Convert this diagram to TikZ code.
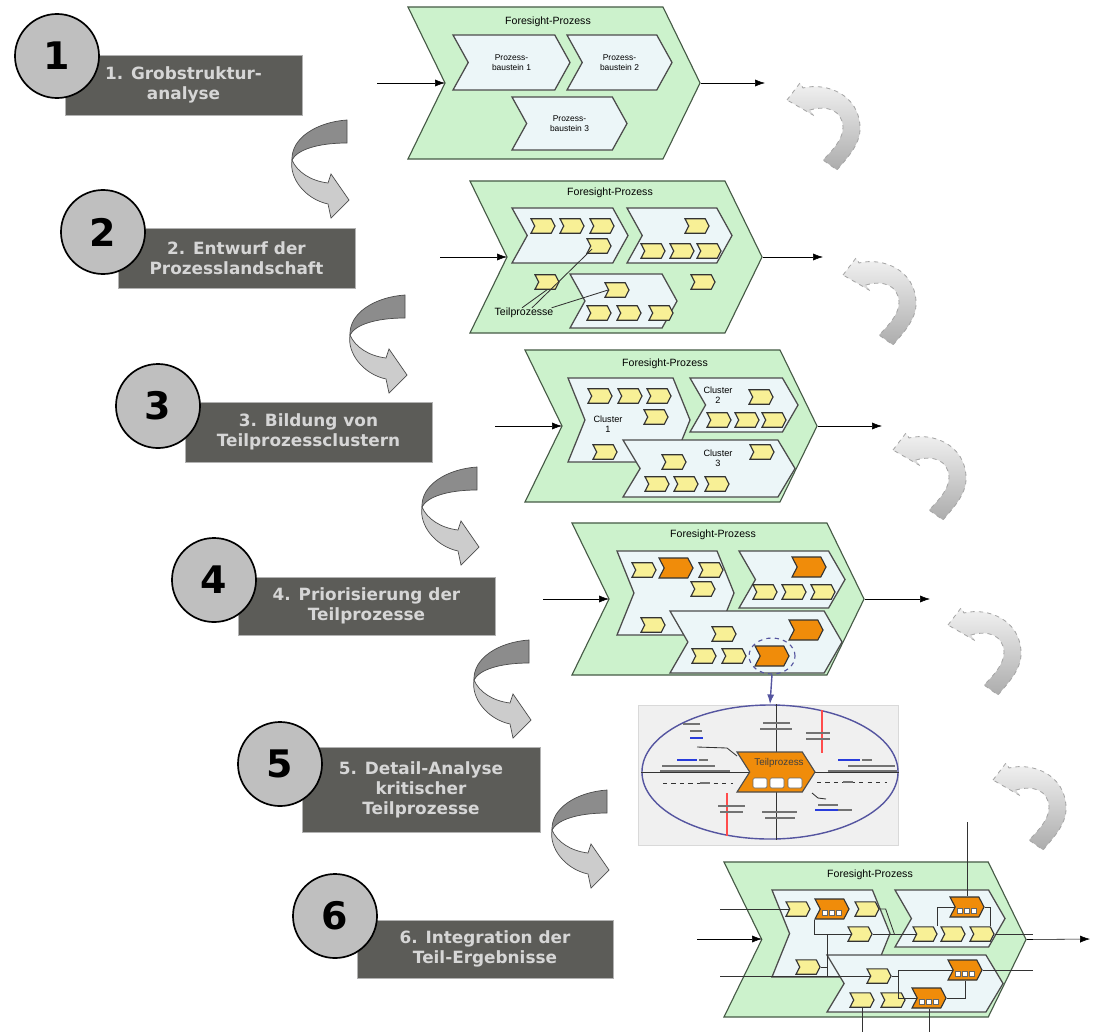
\documentclass[tikz,border=0pt]{standalone}
\usepackage{fontspec}
\newfontfamily\stepfont{DejaVu Sans}
\newfontfamily\diafont{Liberation Sans}
\usetikzlibrary{shapes.symbols,shapes.geometric,arrows.meta,calc}
\definecolor{chevgreen}{RGB}{204,242,204}
\definecolor{chevline}{RGB}{70,90,70}
\definecolor{blockblue}{RGB}{236,246,248}
\definecolor{tpyellow}{RGB}{248,240,150}
\definecolor{tporange}{RGB}{240,140,10}
\definecolor{stepgray}{RGB}{92,92,88}
\definecolor{ovalblue}{RGB}{85,85,160}
\definecolor{linkblue}{RGB}{40,60,220}

\begin{document}
\begin{tikzpicture}[x=0.025cm, y=-0.025cm, >={Latex[length=7pt,width=5pt]},
  every node/.style={inner sep=0pt},
  stepbox/.style={rectangle, fill=stepgray, draw=gray!60, text=white!84!black, align=center, font=\stepfont\bfseries\fontsize{12}{14.3}\selectfont},
  stepnum/.style={circle, draw=black, line width=1.2pt, fill=black!25, minimum size=2.1cm, font=\stepfont\bfseries\fontsize{27}{27}\selectfont},
  sig/.style={signal, signal from=west, signal to=east},
  foresight/.style={sig, draw=chevline, fill=chevgreen, line width=0.8pt, signal pointer angle=128, minimum width=7.3cm, minimum height=3.8cm},
  block/.style={sig, draw=black!70, fill=blockblue, line width=0.9pt, align=center, font=\diafont\fontsize{6}{7}\selectfont},
  chevtitle/.style={font=\diafont\fontsize{7.5}{8}\selectfont},
  clab/.style={align=center, font=\diafont\fontsize{6.5}{7.5}\selectfont},
  ybox/.style={sig, draw=black!80, fill=tpyellow, line width=0.8pt, minimum width=0.6cm, minimum height=0.36cm, signal pointer angle=125},
  obox/.style={ybox, fill=tporange, minimum width=0.85cm, minimum height=0.5cm},
  obox3/.style={obox, path picture={\foreach \k in {-1,0,1} \draw[fill=white, draw=black!60, line width=0.3pt] ($(path picture bounding box.center)+(\k*7-2.5,1)$) rectangle ++(5,5);}},
  wire/.style={black!80, line width=0.6pt},
  scrib/.style={black!55, line width=1.3pt},
  sq/.style={rectangle, fill=white, draw=black!60, minimum width=0.35cm, minimum height=0.25cm, rounded corners=1pt},
  turn/.pic={
    \draw[black!70, line width=0.5pt, fill=black!45] (0,0) .. controls (-30,2) and (-56,18) .. (-55,40) .. controls (-50,30) and (-30,23) .. (0,23) -- cycle;
    \draw[black!70, line width=0.5pt, fill=black!20] (-55,40) .. controls (-50,52) and (-36,61) .. (-19,63) -- (-16,54) -- (2,80) -- (-16,98) -- (-19,84) .. controls (-42,79) and (-58,58) .. (-55,40) -- cycle;},
  backturn/.pic={\draw[gray!70, dashed, line width=0.6pt, top color=gray!10, bottom color=gray!65] (0,0) -- (13,-17) -- (16,-12) .. controls (40,-18) and (72,-5) .. (73,27) .. controls (74,45) and (58,60) .. (50,70) -- (36,60) .. controls (48,48) and (56,38) .. (56,27) .. controls (55,10) and (40,5) .. (23,10) -- (26,15) -- cycle;}]

\useasboundingbox (0,0) rectangle (1095,1032);

\node[stepbox, minimum width=5.93cm, minimum height=1.5cm] (s1) at (183.5,85) {1. Grobstruktur-\\analyse};
\node[stepbox, minimum width=5.93cm, minimum height=1.5cm] (s2) at (236.5,258) {2. Entwurf der\\Prozesslandschaft};
\node[stepbox, minimum width=6.18cm, minimum height=1.5cm] (s3) at (308.5,432) {3. Bildung von\\Teilprozessclustern};
\node[stepbox, minimum width=6.43cm, minimum height=1.45cm] (s4) at (366.5,606) {4. Priorisierung der\\Teilprozesse};
\node[stepbox, minimum width=5.95cm, minimum height=2.13cm] (s5) at (421,789.5) {5. Detail-Analyse\\kritischer\\Teilprozesse};
\node[stepbox, minimum width=6.4cm, minimum height=1.45cm] (s6) at (485,949) {6. Integration der\\Teil-Ergebnisse};

\node[stepnum] (n1) at (57,56) {1};
\node[stepnum] (n2) at (103,232) {2};
\node[stepnum] (n3) at (158,406) {3};
\node[stepnum] (n4) at (214,580) {4};
\node[stepnum] (n5) at (280,764) {5};
\node[stepnum] (n6) at (335,916) {6};

\pic (a1) at (347,120) {turn};
\pic (a2) at (405,295) {turn};
\pic (a3) at (477,467) {turn};
\pic (a4) at (529,640) {turn};
\pic (a5) at (607,790) {turn};

\pic (r1) at (787,100) {backturn};
\pic (r2) at (843,275) {backturn};
\pic (r3) at (893,450) {backturn};
\pic (r4) at (948,625) {backturn};
\pic (r5) at (993,780) {backturn};

\node[foresight] (c1) at (554,83) {};
\node[chevtitle] (t1) at (548,22) {Foresight-Prozess};
\node[block, minimum width=2.925cm, minimum height=1.375cm, signal pointer angle=122] (pb1) at (511.5,62.5) {Prozess-\\baustein 1};
\node[block, minimum width=2.625cm, minimum height=1.375cm, signal pointer angle=122] (pb2) at (619.5,62.5) {Prozess-\\baustein 2};
\node[block, minimum width=2.875cm, minimum height=1.325cm, signal pointer angle=122] (pb3) at (569.5,123.5) {Prozess-\\baustein 3};
\coordinate (c1i) at (377,83);
\coordinate (c1n) at (445,83);
\coordinate (c1o) at (765,83);
\draw[->] (c1i) -- (c1n);
\draw[->] (c1.east) -- (c1o);

\node[foresight] (c2) at (616,257) {};
\node[chevtitle] (t2) at (610,193) {Foresight-Prozess};
\node[block, minimum width=2.9cm, minimum height=1.375cm, signal pointer angle=122] (c2p1) at (570,235.5) {};
\node[block, minimum width=2.625cm, minimum height=1.375cm, signal pointer angle=122] (c2p2) at (679.5,235.5) {};
\node[block, minimum width=2.675cm, minimum height=1.35cm, signal pointer angle=122] (c2p3) at (623.5,301) {};
\node[ybox] (e1) at (543,226) {};
\node[ybox] (e2) at (572,226) {};
\node[ybox] (e3) at (602,226) {};
\node[ybox] (e4) at (599,246) {};
\node[ybox] (e5) at (697,226) {};
\node[ybox] (e6) at (653,251) {};
\node[ybox] (e7) at (682,251) {};
\node[ybox] (e8) at (709,251) {};
\node[ybox] (e9) at (547,282) {};
\node[ybox] (e10) at (617,290) {};
\node[ybox] (e11) at (599,313) {};
\node[ybox] (e12) at (629,313) {};
\node[ybox] (e13) at (661,313) {};
\node[ybox] (e14) at (703,282) {};
\node[chevtitle] (tpl) at (524,313) {Teilprozesse};
\draw[wire] ($(tpl.north)+(-2,0)$) -- (e9.south);
\draw[wire] ($(tpl.north)+(8,0)$) -- ($(e4.west)+(2,3)$);
\draw[wire] ($(tpl.north east)+(-2,0)$) -- (e10.west);
\coordinate (c2i) at (440,257);
\coordinate (c2n) at (507,257);
\coordinate (c2o) at (823,257);
\draw[->] (c2i) -- (c2n);
\draw[->] (c2.east) -- (c2o);

\node[foresight] (c3) at (671,426) {};
\node[chevtitle] (t3) at (665,364) {Foresight-Prozess};
\node[block, minimum width=3.05cm, minimum height=2.1cm, signal pointer angle=136] (c3p1) at (629,420) {};
\node[block, minimum width=2.7cm, minimum height=1.35cm, signal pointer angle=120] (c3p2) at (744,405) {};
\node[block, minimum width=4.3cm, minimum height=1.425cm, signal pointer angle=118] (c3p3) at (709,468.5) {};
\node[ybox] (h1) at (600,396) {};
\node[ybox] (h2) at (630,396) {};
\node[ybox] (h3) at (659,396) {};
\node[ybox] (h4) at (656,417) {};
\node[ybox] (h5) at (605,452) {};
\node[ybox] (h6) at (761,397) {};
\node[ybox] (h7) at (719,420) {};
\node[ybox] (h8) at (747,420) {};
\node[ybox] (h9) at (774,420) {};
\node[ybox] (h10) at (762,452) {};
\node[ybox] (h11) at (674,462) {};
\node[ybox] (h12) at (657,484) {};
\node[ybox] (h13) at (686,484) {};
\node[ybox] (h14) at (717,484) {};
\node[clab] (k1) at (608,424) {Cluster\\1};
\node[clab] (k2) at (718,395) {Cluster\\2};
\node[clab] (k3) at (718,458) {Cluster\\3};
\coordinate (c3i) at (495,426);
\coordinate (c3n) at (562,426);
\coordinate (c3o) at (882,426);
\draw[->] (c3i) -- (c3n);
\draw[->] (c3.east) -- (c3o);

\node[foresight] (c4) at (718,599) {};
\node[chevtitle] (t4) at (713,535) {Foresight-Prozess};
\node[block, minimum width=2.925cm, minimum height=2.1cm, signal pointer angle=136] (c4p1) at (675.5,593) {};
\node[block, minimum width=2.65cm, minimum height=1.425cm, signal pointer angle=120] (c4p2) at (792,579.5) {};
\node[block, minimum width=4.3cm, minimum height=1.55cm, signal pointer angle=120] (c4p3) at (756,642) {};
\node[ybox] (g1) at (644,570) {};
\node[obox] (g2) at (676,568) {};
\node[ybox] (g3) at (711,570) {};
\node[ybox] (g4) at (703,589) {};
\node[ybox] (g5) at (653,625) {};
\node[obox] (g6) at (809,567) {};
\node[ybox] (g7) at (765,592) {};
\node[ybox] (g8) at (794,592) {};
\node[ybox] (g9) at (823,592) {};
\node[obox] (g10) at (806,630) {};
\node[ybox] (g11) at (724,634) {};
\node[ybox] (g12) at (704,656) {};
\node[ybox] (g13) at (734,656) {};
\node[obox] (g14) at (772,656) {};
\node[ellipse, draw=ovalblue, dashed, line width=0.8pt, minimum width=1.15cm, minimum height=0.9cm] (focus) at (772,656) {};
\coordinate (c4i) at (543,599);
\coordinate (c4n) at (609,599);
\coordinate (c4o) at (930,599);
\draw[->] (c4i) -- (c4n);
\draw[->] (c4.east) -- (c4o);

\node[rectangle, fill=black!6, draw=black!15, minimum width=6.5cm, minimum height=3.5cm] (shot) at (768,775) {};
\node[ellipse, draw=ovalblue, line width=1pt, minimum width=6.4cm, minimum height=3.35cm] (oval) at (770,772) {};
\draw[->, ovalblue, line width=1pt] (focus.south) -- (oval.north);
\coordinate (tpc) at (776,772);
\draw[wire] (tpc) -- (tpc |- oval.north);
\draw[wire] (tpc) -- (tpc |- oval.south);
\draw[wire] (oval.west) -- (tpc);
\draw[wire] (tpc) -- (oval.east);
\draw[wire, dashed] (663,783) -- (733,783);
\draw[wire, dashed] (817,782) -- (887,782);
\draw[red!70, line width=1pt] (822,710) -- (822,753);
\draw[red!70, line width=1pt] (727,793) -- (727,836);
\draw[wire] (697,747) -- (727,748) -- (737,756);
\draw[wire] (812,793) -- (818,798) -- (826,799);
\foreach \xa/\xb/\yy in {763/790/723, 760/792/729, 683/700/724, 690/702/731, 806/830/733, 806/830/739, 699/708/760, 662/715/766, 660/730/771, 862/872/760, 848/895/766, 828/897/771, 700/710/783, 843/853/782, 718/745/806, 720/743/812, 762/797/812, 765/795/818, 818/838/805, 838/852/810}
  \draw[scrib] (\xa,\yy) -- (\xb,\yy);
\foreach \xa/\xb/\yy in {690/703/738, 677/697/760, 838/860/760, 815/838/810}
  \draw[scrib, linkblue] (\xa,\yy) -- (\xb,\yy);
\node[sig, fill=tporange, draw=black!70, line width=0.8pt, minimum width=1.95cm, minimum height=1cm, signal pointer angle=115] (tp) at (tpc) {};
\node[font=\diafont\fontsize{7}{8}\selectfont, text=black!75] (tpt) at (779,763) {Teilprozess};
\node[sq] (q1) at (760,783) {};
\node[sq] (q2) at (777,783) {};
\node[sq] (q3) at (795,783) {};

\node[foresight, minimum width=7.55cm, minimum height=3.875cm] (c6) at (875,939.5) {};
\node[chevtitle] (t6) at (870,875) {Foresight-Prozess};
\node[block, minimum width=2.95cm, minimum height=2.175cm, signal pointer angle=136] (c6p1) at (831,933.5) {};
\node[block, minimum width=2.75cm, minimum height=1.425cm, signal pointer angle=120] (c6p2) at (950,918.5) {};
\node[block, minimum width=4.4cm, minimum height=1.425cm, signal pointer angle=118] (c6p3) at (915,983.5) {};
\node[ybox] (f1) at (798,909) {};
\node[obox3] (f2) at (832,909) {};
\node[ybox] (f3) at (867,909) {};
\node[ybox] (f4) at (860,934) {};
\node[ybox] (f5) at (808,967) {};
\node[obox3] (f6) at (967,907) {};
\node[ybox] (f7) at (925,934) {};
\node[ybox] (f8) at (953,934) {};
\node[ybox] (f9) at (982,934) {};
\node[ybox] (f10) at (879,976) {};
\node[obox3] (f11) at (965,970) {};
\node[ybox] (f12) at (862,1000) {};
\node[ybox] (f13) at (893,1000) {};
\node[obox3] (f14) at (929,998) {};
\coordinate (f0) at (720,909);
\coordinate (f00) at (720,976);
\coordinate (j1) at (827,934);
\coordinate (j2) at (827,976);
\coordinate (f6i) at (967,822);
\coordinate (f9o) at (1033,934);
\coordinate (f11o) at (1033,970);
\coordinate (f12o) at (862,1032);
\coordinate (f14o) at (929,1032);
\draw[wire] (f0) -- (f1);
\draw[wire] (f00) -- (f10);
\draw[wire] ($(f2.south)+(-18,0)$) |- (f4.west);
\draw[wire] (j1) -- (j2);
\draw[wire] (f5.east) -- (f5.east -| j1);
\draw[wire] (f3.east) -- ++(6,0) -- ($(f4.east)!.5!(f7.west)$);
\draw[wire] (f4) -- (f7);
\draw[wire] (f6.west) -| ($(f7.north)+(12,0)$);
\draw[wire] (f6.east) -| ($(f9.north)+(8,0)$);
\draw[wire] (f6i) -- (f6);
\draw[wire] (f9) -- (f9o);
\draw[wire] (f10.east) -- ++(7,0) |- (f11.west);
\draw[wire] ($(f10.east)+(7,0)$) |- (f14.west);
\draw[wire] (f14.east) -| (f11.south);
\draw[wire] (f11) -- (f11o);
\draw[wire] (f12) -- (f12o);
\draw[wire] (f14) -- (f14o);
\coordinate (c6i) at (697,939);
\coordinate (c6n) at (762,939);
\coordinate (c6o) at (1090,939);
\draw[->] (c6i) -- (c6n);
\draw[->] (c6.east) -- (c6o);
\end{tikzpicture}
\end{document}
